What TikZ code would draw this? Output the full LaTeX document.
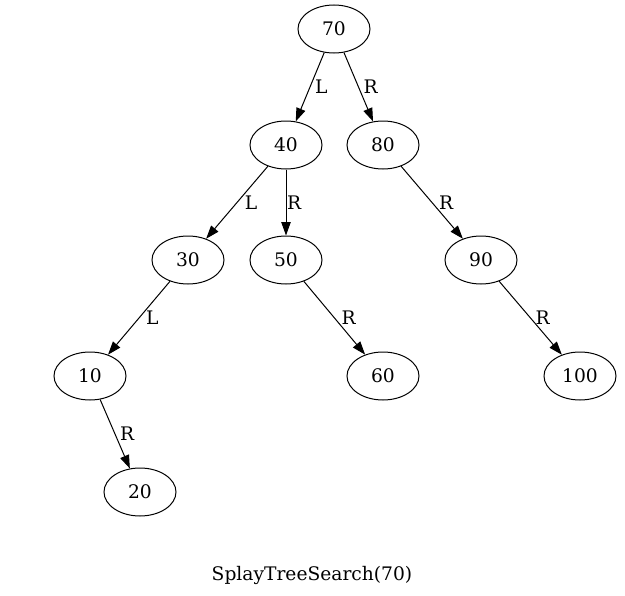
\documentclass[tikz,border=0pt]{standalone}
\usepackage{fontspec}
\setmainfont{DejaVu Serif}
\usepackage{tikz}
\usetikzlibrary{arrows.meta,shapes.geometric}
\tikzset{>={Triangle[length=10pt,width=7pt]}}
\tikzstyle{key}=[draw,ellipse,line width=0.75pt,minimum width=54pt,minimum height=36pt,inner sep=0pt]
\tikzstyle{edge}=[->,black,line width=0.75pt]
\tikzstyle{side}=[midway,right,inner sep=3.5pt]

\begin{document}
\begin{tikzpicture}[x=0.75pt,y=-0.75pt,font=\fontsize{14}{16}\selectfont]
            \useasboundingbox (0,0) rectangle (625,596);
            \node[key] (k70) at (334,29) {70};
            \node[key] (k40) at (286,145) {40};
            \node[key] (k80) at (383,145) {80};
            \node[key] (k30) at (188,260) {30};
            \node[key] (k50) at (286,260) {50};
            \node[key] (k90) at (481,260) {90};
            \node[key] (k10) at (90,376) {10};
            \node[key] (k60) at (383,376) {60};
            \node[key] (k100) at (580,376) {100};
            \node[key] (k20) at (140,492) {20};
            \draw[edge] (k70)--(k40) node[side]{L};
            \draw[edge] (k70)--(k80) node[side]{R};
            \draw[edge] (k40)--(k30) node[side, xshift=2pt]{L};
            \draw[edge] (k40)--(k50) node[side, xshift=-3pt]{R};
            \draw[edge] (k80)--(k90) node[side, xshift=1.5pt]{R};
            \draw[edge] (k30)--(k10) node[side, xshift=1.5pt]{L};
            \draw[edge] (k50)--(k60) node[side, xshift=1.5pt]{R};
            \draw[edge] (k90)--(k100) node[side]{R};
            \draw[edge] (k10)--(k20) node[side]{R};
            \node (title) at (312,575) {SplayTreeSearch(70)};
        \end{tikzpicture}
\end{document}
